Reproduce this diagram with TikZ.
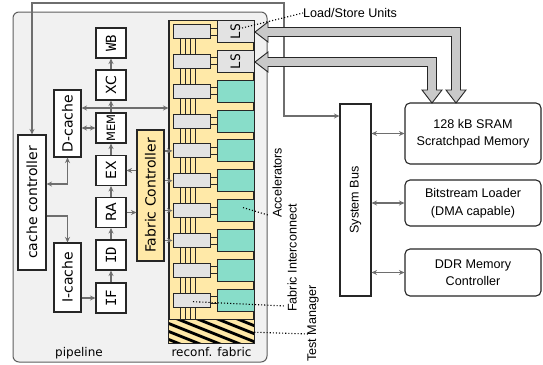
\documentclass[tikz,border=0pt]{standalone}
\usepackage{fontspec}
\usepackage{graphicx}
\setmainfont{DejaVu Sans}
\newfontfamily\labelfont{Liberation Sans}
\newfontfamily\codefont{DejaVu Sans Mono}
\usetikzlibrary{arrows.meta,calc}

\definecolor{panelgray}{HTML}{F1F1F1}
\definecolor{edgegray}{HTML}{5E5E5E}
\definecolor{wiregray}{HTML}{6E6E6E}
\definecolor{fabricyellow}{HTML}{FFE9A8}
\definecolor{accteal}{HTML}{88DDC9}
\definecolor{icgray}{HTML}{E3E3E3}
\definecolor{bandgray}{HTML}{C9C9C9}
\definecolor{inkdark}{HTML}{262626}

\begin{document}
\begin{tikzpicture}[x=1pt, y=-1pt,
  wire/.style={draw=wiregray, line width=1.2pt},
  arr/.style={wire, -{Stealth[length=5.5pt,width=5pt]}},
  darr/.style={wire, {Stealth[length=5.5pt,width=5pt]}-{Stealth[length=5.5pt,width=5pt]}},
  blk/.style={draw=inkdark, line width=1.1pt, fill=white, inner sep=0pt,
    font=\fontsize{14pt}{16pt}\selectfont},
  stagebox/.style={blk, minimum width=30pt, minimum height=30pt},
  monostage/.style={stagebox, font=\codefont\fontsize{14pt}{16pt}\selectfont},
  ebox/.style={draw=inkdark, line width=1pt, inner sep=0pt},
  icbox/.style={ebox, fill=icgray, minimum width=37pt, minimum height=14pt},
  unitbox/.style={ebox, minimum width=37pt, minimum height=22pt},
  sysbox/.style={draw=inkdark, line width=1.1pt, fill=white, rounded corners=5pt,
    inner sep=0pt, align=center, minimum width=136pt,
    font=\labelfont\fontsize{12.6pt}{17.5pt}\selectfont},
  note/.style={font=\labelfont\fontsize{12.6pt}{15pt}\selectfont, inner sep=0pt},
  leader/.style={draw=black, line width=1.1pt, dotted},
  tie/.style={draw=inkdark, line width=0.9pt},
  band/.style={fill=bandgray, draw=inkdark, line width=0.9pt, line join=miter}
]
\useasboundingbox (0,0) rectangle (543,364);

% core panel holding pipeline and reconfigurable fabric
\node[draw=edgegray, fill=panelgray, line width=1pt, rounded corners=6pt,
  minimum width=254pt, minimum height=350pt, inner sep=0pt] (core) at (140,187) {};

% fabric area
\node[draw=inkdark, fill=fabricyellow, line width=1.1pt, minimum width=85pt,
  minimum height=322.5pt, inner sep=0pt] (fab) at (211.5,181.75) {};

% test manager (hatched strip)
\node[fill=fabricyellow, minimum width=85pt, minimum height=23pt, inner sep=0pt] (tm) at (211.5,331.5) {};
\begin{scope}
  \clip (tm.north west) rectangle (tm.south east);
  \foreach \c in {-72,-64,...,32}
    \draw[line width=2.8pt, black] (160,{320+\c}) -- (265,{320+\c+42});
\end{scope}
\draw[ebox, line width=1.1pt] (tm.north west) rectangle (tm.south east);

% interconnect switches and processing units
\foreach \k in {0,...,9}
  \node[icbox] (ic\k) at (191.5,{31.5+29.85*\k}) {};
\foreach \k in {0,1}
  \node[unitbox, fill=icgray, font=\codefont\fontsize{13pt}{15pt}\selectfont] (pe\k)
    at (235.5,{31.5+29.85*\k}) {\rotatebox{90}{LS}};
\foreach \k in {2,...,9}
  \node[unitbox, fill=accteal] (pe\k) at (235.5,{31.5+29.85*\k}) {};

% interconnect wiring
\foreach \k [count=\n from 1] in {0,...,8}
  \foreach \dx in {7.5,12.5,17.5,22.5}
    \draw[tie] ($(ic\k.south west)+(\dx,0)$) -- ($(ic\n.north west)+(\dx,0)$);
\foreach \dx in {7.5,12.5,17.5,22.5}
  \draw[tie] ($(ic9.south west)+(\dx,0)$) -- ($(ic9.south west |- tm.north)+(\dx,0)$);
\foreach \k in {0,...,9} {
  \draw[tie] ($(ic\k.east)+(0,-3.5)$) -- ($(pe\k.west)+(0,-3.5)$);
  \draw[tie] ($(ic\k.east)+(0,3.5)$) -- ($(pe\k.west)+(0,3.5)$);
}

% pipeline stages
\node[monostage] (stWB) at (111,43) {\rotatebox{90}{WB}};
\node[stagebox] (stXC) at (111,85) {\rotatebox{90}{XC}};
\node[stagebox, font=\fontsize{11.5pt}{13pt}\selectfont] (stMEM) at (111,128) {\rotatebox{90}{MEM}};
\node[stagebox] (stEX) at (111,170.5) {\rotatebox{90}{EX}};
\node[stagebox] (stRA) at (111,212.5) {\rotatebox{90}{RA}};
\node[monostage] (stID) at (111,255) {\rotatebox{90}{ID}};
\node[monostage] (stIF) at (111,298) {\rotatebox{90}{IF}};

% caches and controllers
\node[blk, minimum width=27pt, minimum height=67pt] (dc) at (67.5,123.5) {\rotatebox{90}{D-cache}};
\node[blk, minimum width=27pt, minimum height=69pt] (icache) at (67.5,277.5) {\rotatebox{90}{I-cache}};
\node[blk, minimum width=28pt, minimum height=135pt] (cc) at (32,202.5) {\rotatebox{90}{cache controller}};
\node[blk, fill=fabricyellow, minimum width=27pt, minimum height=131pt] (fc) at (150.5,195.5) {\rotatebox{90}{Fabric Controller}};

% pipeline flow
\draw[arr] (stIF.north) -- (stID.south);
\draw[arr] (stID.north) -- (stRA.south);
\draw[arr] (stRA.north) -- (stEX.south);
\draw[arr] (stEX.north) -- (stMEM.south);
\draw[arr] (stMEM.north) -- (stXC.south);
\draw[arr] (stXC.north) -- (stWB.south);

\draw[darr] (dc.east |- stMEM) -- (stMEM.west);
\draw[darr] (dc.east |- 0,108) -- (fab.west |- 0,108);
\draw[darr] (cc.east |- 0,184) -| (dc.south);
\draw[arr] (cc.east |- 0,216) -| (icache.north);
\draw[arr] (icache.east |- stIF) -- (stIF.west);
\draw[arr] (fc.west |- stEX) -- (stEX.east);
\draw[arr] (stRA.east) -- (stRA.east -| fc.west);
\foreach \k in {4,...,7}
  \draw[arr] (fc.east |- ic\k) -- (ic\k.west);

% system side
\node[draw=inkdark, line width=1.1pt, fill=white, minimum width=31pt, minimum height=192pt,
  inner sep=0pt, font=\labelfont\fontsize{12.6pt}{15pt}\selectfont] (sb) at (355.5,200) {\rotatebox{90}{System Bus}};
\node[sysbox, minimum height=61pt] (sram) at (473,133.5) {128 kB SRAM\\Scratchpad Memory};
\node[sysbox, minimum height=46pt] (bsl) at (473,203) {Bitstream Loader\\(DMA capable)};
\node[sysbox, minimum height=47pt] (ddr) at (473,272.5) {DDR Memory\\Controller};
\foreach \t in {sram,bsl,ddr}
  \draw[darr] (sb.east |- \t) -- (\t.west);

\draw[darr] (cc.north) |- (284,3) |- (sb.west |- 0,116);

% wide data paths between load/store units and scratchpad
\path[band] (255,32) -- (268,22) -- (268,27.5) -- (460.5,27.5) -- (460.5,90) -- (466,90)
  -- (456,103) -- (446,90) -- (451.5,90) -- (451.5,36.5) -- (268,36.5) -- (268,42) -- cycle;
\path[band] (255,62) -- (268,52) -- (268,57.5) -- (436.5,57.5) -- (436.5,90) -- (442,90)
  -- (432,103) -- (422,90) -- (427.5,90) -- (427.5,66.5) -- (268,66.5) -- (268,72) -- cycle;

% annotations
\node[note, anchor=base west] (lsl) at (303,17.5) {Load/Store Units};
\node[note, rotate=90, anchor=west] (accl) at (277,218) {Accelerators};
\node[note, rotate=90, anchor=west] (fil) at (292,312) {Fabric Interconnect};
\node[note, rotate=90, anchor=west] (tml) at (313,362) {Test Manager};
\coordinate (accTip) at (268,215);
\coordinate (fiTip) at (285,306);
\coordinate (tmTip) at (308,334);
\draw[leader] ($(pe0.center)+(6.5,-3.5)$) -- (lsl.west);
\draw[leader] ($(pe6.center)+(7.5,-3)$) -- (accTip);
\draw[leader] ($(ic9.center)+(1.5,1.5)$) -- (fiTip);
\draw[leader] ($(tm.center)+(36.5,0.5)$) -- (tmTip);

\node[font=\fontsize{12pt}{14pt}\selectfont, anchor=base, inner sep=0pt] (pl) at (79,356) {pipeline};
\node[font=\fontsize{12pt}{14pt}\selectfont, anchor=base, inner sep=0pt] (rfl) at (211.5,356) {reconf. fabric};
\end{tikzpicture}
\end{document}
